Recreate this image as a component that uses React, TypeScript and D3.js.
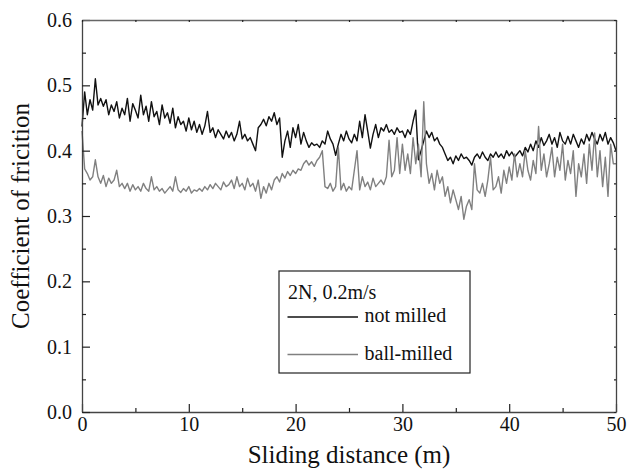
import { useRef, useEffect } from "react";
import { select, scaleLinear, axisBottom, axisLeft, axisTop, axisRight, line } from "d3";

const WIDTH = 629;
const HEIGHT = 470;
const plot = { left: 82, right: 616, top: 20, bottom: 412 };
const FONT = "Liberation Serif";

// sliding distance sampled every 0.25 m
const STEP = 0.25;

const notMilled = [
  0.437, 0.49, 0.455, 0.478, 0.462, 0.51, 0.47, 0.48,
  0.468, 0.478, 0.455, 0.47, 0.46, 0.475, 0.45, 0.465,
  0.455, 0.48, 0.445, 0.472, 0.462, 0.45, 0.485, 0.455,
  0.468, 0.445, 0.475, 0.452, 0.46, 0.44, 0.47, 0.45,
  0.458, 0.442, 0.465, 0.435, 0.452, 0.44, 0.445, 0.43,
  0.45, 0.432, 0.445, 0.428, 0.44, 0.425, 0.438, 0.46,
  0.428, 0.435, 0.42, 0.432, 0.425, 0.418, 0.43, 0.42,
  0.428, 0.415, 0.425, 0.445, 0.418, 0.425, 0.415, 0.42,
  0.41, 0.4, 0.435, 0.44, 0.448, 0.438, 0.452, 0.445,
  0.458, 0.44, 0.45, 0.39, 0.415, 0.43, 0.405, 0.435,
  0.42, 0.44, 0.41, 0.428, 0.415, 0.405, 0.412, 0.408,
  0.41, 0.405, 0.415, 0.41, 0.43, 0.418, 0.41, 0.393,
  0.41, 0.425, 0.415, 0.43, 0.418, 0.412, 0.425, 0.415,
  0.445, 0.42, 0.455, 0.43, 0.404, 0.425, 0.44, 0.42,
  0.435, 0.43, 0.44, 0.428, 0.432, 0.425, 0.435, 0.428,
  0.43, 0.42, 0.432, 0.425, 0.445, 0.462, 0.386, 0.4,
  0.415, 0.43, 0.42, 0.428, 0.415, 0.42, 0.41, 0.405,
  0.395, 0.385, 0.39, 0.38, 0.392, 0.385, 0.395, 0.388,
  0.39, 0.385, 0.378, 0.39, 0.395, 0.388, 0.398, 0.39,
  0.385, 0.395, 0.39, 0.398, 0.39, 0.395, 0.388, 0.4,
  0.392, 0.398, 0.39, 0.395, 0.4, 0.392, 0.405, 0.398,
  0.41, 0.4, 0.415, 0.405, 0.42, 0.408, 0.415, 0.425,
  0.41, 0.42, 0.405, 0.428, 0.415, 0.41, 0.422, 0.41,
  0.425, 0.415, 0.405, 0.418, 0.41, 0.425, 0.415, 0.428,
  0.418, 0.41, 0.425, 0.415, 0.428, 0.41, 0.42, 0.412,
  0.4,
];

const ballMilled = [
  0.43, 0.372, 0.365, 0.355, 0.36, 0.386, 0.36, 0.35,
  0.362, 0.345, 0.358, 0.35, 0.355, 0.37, 0.345, 0.35,
  0.342, 0.35, 0.338, 0.348, 0.34, 0.345, 0.338, 0.35,
  0.342, 0.338, 0.36, 0.34, 0.345, 0.338, 0.342, 0.335,
  0.34, 0.345, 0.338, 0.36, 0.34, 0.336, 0.342, 0.338,
  0.345, 0.335, 0.34, 0.338, 0.342, 0.338, 0.345, 0.34,
  0.348, 0.342, 0.35, 0.345, 0.34, 0.352, 0.345, 0.348,
  0.355, 0.342, 0.36, 0.345, 0.35, 0.34, 0.358, 0.345,
  0.35, 0.338, 0.355, 0.327, 0.345, 0.335, 0.35, 0.34,
  0.355, 0.36, 0.352, 0.365, 0.358, 0.368, 0.362, 0.37,
  0.365, 0.372, 0.37, 0.38, 0.385, 0.378, 0.383, 0.376,
  0.385, 0.39, 0.4, 0.345, 0.342, 0.35, 0.338, 0.345,
  0.405, 0.34, 0.35, 0.338, 0.345, 0.34, 0.37, 0.4,
  0.34, 0.36, 0.345, 0.352, 0.34, 0.358, 0.345, 0.35,
  0.355, 0.348, 0.36, 0.416, 0.36, 0.37, 0.42, 0.365,
  0.41, 0.37, 0.395, 0.365, 0.42, 0.38, 0.41, 0.36,
  0.475, 0.38, 0.35, 0.365, 0.34, 0.37, 0.35, 0.36,
  0.33, 0.345, 0.32, 0.34, 0.325, 0.31, 0.33, 0.295,
  0.315, 0.325, 0.31, 0.38, 0.34, 0.335, 0.35, 0.33,
  0.355, 0.39, 0.34, 0.345, 0.36, 0.335, 0.37, 0.35,
  0.375, 0.355, 0.395, 0.36, 0.38, 0.36, 0.4, 0.37,
  0.355, 0.385, 0.365, 0.437, 0.37, 0.395, 0.36, 0.38,
  0.405, 0.36, 0.39, 0.37, 0.41, 0.355, 0.385, 0.365,
  0.4, 0.33, 0.38, 0.36, 0.395, 0.35, 0.41, 0.37,
  0.427, 0.36, 0.4, 0.345, 0.39, 0.33, 0.41, 0.38,
  0.38,
];

const xTicks = [0, 10, 20, 30, 40, 50];
const xMinor = [5, 15, 25, 35, 45];
const yTicks = [0, 0.1, 0.2, 0.3, 0.4, 0.5, 0.6];
const yMinor = [0.05, 0.15, 0.25, 0.35, 0.45, 0.55];

const series = [
  { key: "not milled", values: notMilled, color: "#111111" },
  { key: "ball-milled", values: ballMilled, color: "#808080" },
];

function App() {
  const svgRef = useRef(null);

  useEffect(() => {
    const svg = select(svgRef.current);
    svg.selectAll("*").remove();

    const x = scaleLinear().domain([0, 50]).range([plot.left, plot.right]);
    const y = scaleLinear().domain([0, 0.6]).range([plot.bottom, plot.top]);

    // data lines
    const myLine = line<number>()
      .x((_, i) => x(i * STEP))
      .y((v) => y(v));
    svg.append("g")
      .selectAll("path")
      .data(series)
      .join("path")
      .attr("d", (d) => myLine(d.values))
      .attr("fill", "none")
      .attr("stroke", (d) => d.color)
      .attr("stroke-width", 1.4)
      .attr("stroke-linejoin", "round");

    const styleAxis = (g) => {
      g.attr("font-family", null).attr("font-size", null);
      g.select(".domain").attr("stroke", "#444").attr("stroke-width", 1.3);
      g.selectAll(".tick line").attr("stroke", "#222").attr("stroke-width", 1.2);
      g.selectAll(".tick text")
        .attr("fill", "#111")
        .style("font-family", FONT)
        .style("font-size", "20px");
    };

    // bottom axis
    svg.append("g")
      .attr("transform", `translate(0,${plot.bottom})`)
      .call(axisBottom(x).tickValues(xTicks).tickSize(-8).tickPadding(5).tickSizeOuter(0))
      .call(styleAxis);
    svg.append("g")
      .attr("transform", `translate(0,${plot.bottom})`)
      .call(axisBottom(x).tickValues(xMinor).tickSize(-4).tickFormat(() => ""))
      .call((g) => g.select(".domain").remove())
      .call(styleAxis);

    // left axis
    svg.append("g")
      .attr("transform", `translate(${plot.left},0)`)
      .call(axisLeft(y).tickValues(yTicks).tickSize(-8).tickPadding(10).tickSizeOuter(0).tickFormat((d) => (+d).toFixed(1)))
      .call(styleAxis);
    svg.append("g")
      .attr("transform", `translate(${plot.left},0)`)
      .call(axisLeft(y).tickValues(yMinor).tickSize(-4).tickFormat(() => ""))
      .call((g) => g.select(".domain").remove())
      .call(styleAxis);

    // mirrored top / right axes
    svg.append("g")
      .attr("transform", `translate(0,${plot.top})`)
      .call(axisTop(x).tickValues(xTicks.concat(xMinor)).tickSize(-2).tickSizeOuter(0).tickFormat(() => ""))
      .call(styleAxis)
      .call((g) => g.select(".domain").attr("stroke", "#666"));
    svg.append("g")
      .attr("transform", `translate(${plot.right},0)`)
      .call(axisRight(y).tickValues(yTicks.concat(yMinor)).tickSize(-2).tickSizeOuter(0).tickFormat(() => ""))
      .call(styleAxis);

    // axis labels
    svg.append("text")
      .attr("x", (plot.left + plot.right) / 2)
      .attr("y", 463)
      .attr("text-anchor", "middle")
      .attr("fill", "#111")
      .style("font-family", FONT)
      .style("font-size", "25px")
      .text("Sliding distance (m)");
    svg.append("text")
      .attr("transform", `translate(28.5,${(plot.top + plot.bottom) / 2}) rotate(-90)`)
      .attr("text-anchor", "middle")
      .attr("fill", "#111")
      .style("font-family", FONT)
      .style("font-size", "25px")
      .text("Coefficient of fricition");

    // legend
    const legend = svg.append("g");
    legend.append("rect")
      .attr("x", 279)
      .attr("y", 271)
      .attr("width", 191)
      .attr("height", 102)
      .attr("fill", "white")
      .attr("stroke", "#222")
      .attr("stroke-width", 1.2);
    legend.append("text")
      .attr("x", 288)
      .attr("y", 299)
      .attr("fill", "#111")
      .style("font-family", FONT)
      .style("font-size", "20px")
      .text("2N, 0.2m/s");
    legend.selectAll(".key-line")
      .data(series)
      .join("line")
      .attr("class", "key-line")
      .attr("x1", 287.5)
      .attr("x2", 358)
      .attr("y1", (_, i) => 317 + i * 37.5)
      .attr("y2", (_, i) => 317 + i * 37.5)
      .attr("stroke", (d) => d.color)
      .attr("stroke-width", 1.3);
    legend.selectAll(".key-label")
      .data(series)
      .join("text")
      .attr("class", "key-label")
      .attr("x", 364.5)
      .attr("y", (_, i) => 322 + i * 37.5)
      .attr("fill", "#111")
      .style("font-family", FONT)
      .style("font-size", "20px")
      .text((d) => d.key);
  }, []);

  return (
    <svg
      ref={svgRef}
      width={WIDTH}
      height={HEIGHT}
      style={{ position: "absolute", left: 0, top: 0, background: "white", fontFamily: FONT }}
    />
  );
}

export default App;
